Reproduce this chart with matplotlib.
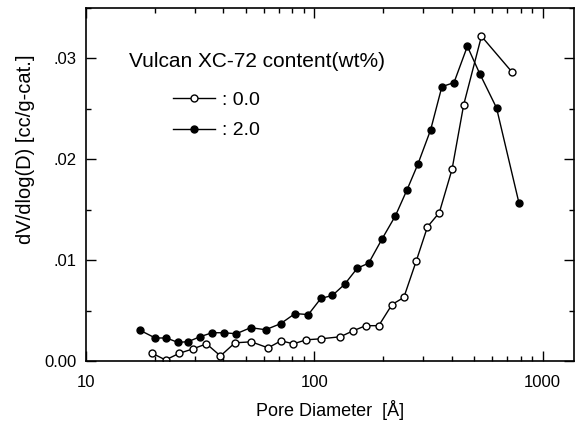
import matplotlib
matplotlib.use("Agg")
import matplotlib.pyplot as plt
from matplotlib.ticker import FixedLocator, FuncFormatter, LogLocator, NullFormatter, MultipleLocator

plt.rcParams['font.family'] = ['Liberation Sans', 'DejaVu Sans']

# pore diameter [A] and dV/dlog(D)
d_00 = [19.5, 22.3, 25.6, 29.4, 33.7, 38.8, 44.9, 53.0, 62.7, 71.5, 81.0, 92.2,
        107.1, 129.9, 148.1, 168.0, 191.5, 219.0, 246.6, 279.4, 313.0, 352.6,
        401.0, 451.0, 539.5, 731.0]
v_00 = [0.00076, 0.0001, 0.00076, 0.0012, 0.0017, 0.0005, 0.0018, 0.0019, 0.0013,
        0.0020, 0.0017, 0.0021, 0.0022, 0.0024, 0.0030, 0.0035, 0.0035, 0.0056,
        0.0063, 0.0099, 0.0133, 0.0147, 0.0190, 0.0254, 0.0322, 0.0287]

d_20 = [17.15, 20.1, 22.5, 25.2, 28.0, 31.5, 35.7, 40.1, 45.5, 52.6, 61.2, 71.2,
        82.3, 94.1, 106.8, 120.0, 135.7, 154.2, 173.0, 198.0, 226.6, 255.0,
        284.0, 323.0, 362.0, 409.0, 468.0, 530.0, 628.0, 787.0]
v_20 = [0.00307, 0.00228, 0.00228, 0.00185, 0.00191, 0.0024, 0.0028, 0.0028,
        0.0027, 0.0033, 0.0031, 0.0037, 0.0047, 0.0046, 0.0062, 0.0065, 0.0076,
        0.0092, 0.0097, 0.0121, 0.0144, 0.0170, 0.0195, 0.0229, 0.0272, 0.0276,
        0.0312, 0.0285, 0.0251, 0.0157]

fig = plt.figure(figsize=(5.75, 4.32), dpi=100)
ax = fig.add_axes([0.1496, 0.1644, 0.8484, 0.8171])

ax.plot(d_00, v_00, '-o', color='black', lw=1, ms=5, mfc='white', mec='black',
        mew=1, label=': 0.0')
ax.plot(d_20, v_20, '-o', color='black', lw=1, ms=5, mfc='black', mec='black',
        label=': 2.0')

ax.set_xscale('log')
ax.set_xlim(10, 1370)
ax.set_ylim(0, 0.035)

ax.xaxis.set_major_locator(FixedLocator([10, 100, 1000]))
ax.xaxis.set_major_formatter(FuncFormatter(lambda v, p: '%d' % v))
ax.xaxis.set_minor_locator(LogLocator(base=10, subs=range(2, 10)))
ax.xaxis.set_minor_formatter(NullFormatter())

ax.yaxis.set_major_locator(MultipleLocator(0.01))
ax.yaxis.set_minor_locator(MultipleLocator(0.005))
ax.yaxis.set_major_formatter(FuncFormatter(
    lambda v, p: '0.00' if abs(v) < 1e-9 else ('%.2f' % v).lstrip('0')))

ax.tick_params(which='both', direction='in', top=True, right=True,
               labelsize=12, width=1)
ax.tick_params(which='major', length=7, pad=7)
ax.tick_params(axis='x', which='major', pad=10)
ax.tick_params(which='minor', length=3.5)
for s in ax.spines.values():
    s.set_linewidth(1.2)

ax.set_xlabel('Pore Diameter  [Å]', fontsize=13, labelpad=7)
ax.set_ylabel('dV/dlog(D) [cc/g-cat.]', fontsize=14.5)
ax.yaxis.set_label_coords(-0.104, 0.60)

ax.text(0.088, 0.847, 'Vulcan XC-72 content(wt%)', transform=ax.transAxes,
        fontsize=15, ha='left', va='center')
leg = ax.legend(loc='upper left', bbox_to_anchor=(0.178, 0.765), frameon=False,
                fontsize=14, handlelength=2.15, handletextpad=0.4,
                labelspacing=0.68, borderpad=0.0, borderaxespad=0.0)

fig.savefig('out.png', dpi=100)
